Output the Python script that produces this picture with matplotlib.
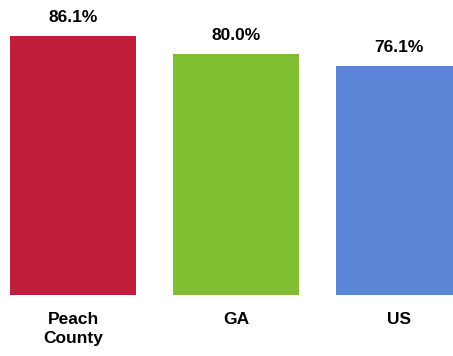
import matplotlib
matplotlib.use("Agg")
import matplotlib.pyplot as plt
from matplotlib import font_manager

categories = ["Peach\nCounty", "GA", "US"]
values = [86.1, 80.0, 76.1]
colors = ["#BE1E3A", "#80BE32", "#5B85D6"]

names = {f.name for f in font_manager.fontManager.ttflist}
family = ["Liberation Sans Narrow", "Liberation Sans", "DejaVu Sans"]
family = [f for f in family if f in names] or ["DejaVu Sans"]
plt.rcParams["font.family"] = family

fig = plt.figure(figsize=(4.53, 3.56), dpi=100)
ax = fig.add_axes([0, 61 / 356, 1, 295 / 356])

x = range(len(categories))
bars = ax.bar(x, values, width=0.773, color=colors)

for b, v in zip(bars, values):
    ax.annotate(f"{v:.1f}%", (b.get_x() + b.get_width() / 2, v),
                xytext=(0, 11), textcoords="offset pixels",
                ha="center", va="bottom", fontsize=12.5, fontweight="bold")

ax.set_xlim(-0.448, 2.331)
ax.set_ylim(0, 98)
ax.set_xticks(list(x))
ax.set_xticklabels(categories, fontsize=12.5, fontweight="bold", linespacing=1.35)
ax.tick_params(axis="x", length=0, pad=12)
ax.set_yticks([])
for s in ax.spines.values():
    s.set_visible(False)

fig.savefig("out.png", dpi=100)
